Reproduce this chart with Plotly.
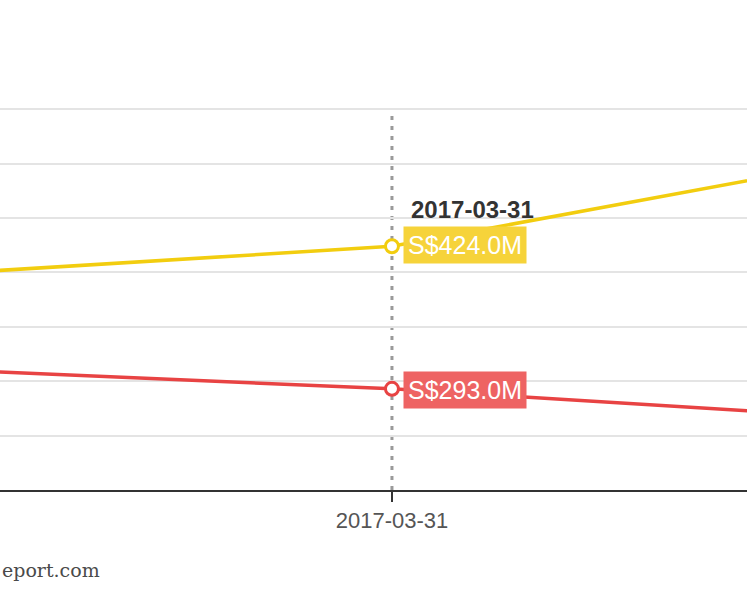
import plotly.graph_objects as go

# fiscal year ends (only the middle one falls inside the visible window)
dates = ['2016-03-31', '2017-03-31', '2018-03-31']
yellow_vals = [398, 424, 502]   # S$M
red_vals = [311, 293, 267]      # S$M
hover_idx = 1

yellow = '#F2CD0F'
red = '#E84343'

fig = go.Figure()

fig.add_trace(go.Scatter(x=dates, y=yellow_vals, mode='lines',
                         line=dict(color=yellow, width=3.5), hoverinfo='skip'))
fig.add_trace(go.Scatter(x=dates, y=red_vals, mode='lines',
                         line=dict(color=red, width=3.5), hoverinfo='skip'))

# highlighted (hovered) points
fig.add_trace(go.Scatter(x=[dates[hover_idx]], y=[yellow_vals[hover_idx]], mode='markers',
                         marker=dict(size=13, color='white', line=dict(color=yellow, width=3)),
                         hoverinfo='skip'))
fig.add_trace(go.Scatter(x=[dates[hover_idx]], y=[red_vals[hover_idx]], mode='markers',
                         marker=dict(size=13, color='white', line=dict(color=red, width=3)),
                         hoverinfo='skip'))

# spike line
fig.add_shape(type='line', xref='x', yref='paper',
              x0=dates[hover_idx], x1=dates[hover_idx], y0=0, y1=0.995,
              line=dict(color='#9a9a9a', width=3, dash='4px,6px'), layer='below')

fig.add_annotation(x=dates[hover_idx], y=yellow_vals[hover_idx], text='<b>2017-03-31</b>',
                   showarrow=False, xanchor='left', yanchor='middle', xshift=17, yshift=37,
                   font=dict(family='Liberation Sans', size=24, color='#333333'))
fig.add_annotation(x=dates[hover_idx], y=yellow_vals[hover_idx],
                   text='S$%.1fM' % yellow_vals[hover_idx],
                   showarrow=False, xanchor='left', yanchor='middle', xshift=11, yshift=1,
                   bgcolor='#F6D33A', borderpad=4,
                   font=dict(family='Liberation Sans', size=25, color='white'))
fig.add_annotation(x=dates[hover_idx], y=red_vals[hover_idx],
                   text='S$%.1fM' % red_vals[hover_idx],
                   showarrow=False, xanchor='left', yanchor='middle', xshift=11, yshift=-1,
                   bgcolor='#EE6363', borderpad=4,
                   font=dict(family='Liberation Sans', size=25, color='white'))

fig.add_annotation(xref='paper', yref='paper', x=0, y=-0.21, text='eport.com',
                   showarrow=False, xanchor='left', yanchor='middle',
                   font=dict(family='DejaVu Serif', size=19, color='#4a4a4a'))

fig.update_layout(
    width=747, height=598,
    margin=dict(l=0, r=0, t=107, b=108),
    plot_bgcolor='white', paper_bgcolor='white',
    showlegend=False,
    xaxis=dict(type='date', range=['2016-05-24', '2018-01-06 16:48'],
               tickvals=dates, ticktext=dates,
               ticks='outside', ticklen=10, tickwidth=1.5, tickcolor='#333333',
               showline=True, linecolor='#333333', linewidth=1.5,
               showgrid=False, zeroline=False,
               tickfont=dict(family='Liberation Sans', size=22, color='#555555')),
    yaxis=dict(range=[200, 552], tickvals=[200, 250, 300, 350, 400, 450, 500, 550],
               showticklabels=False, gridcolor='#e4e4e4', gridwidth=1.5,
               zeroline=False, showline=False),
)

# drop the page's default body margin so the figure sits at the window corner
fig.write_html('out.html', config={'displayModeBar': False},
               post_script="document.body.style.margin='0px';")
